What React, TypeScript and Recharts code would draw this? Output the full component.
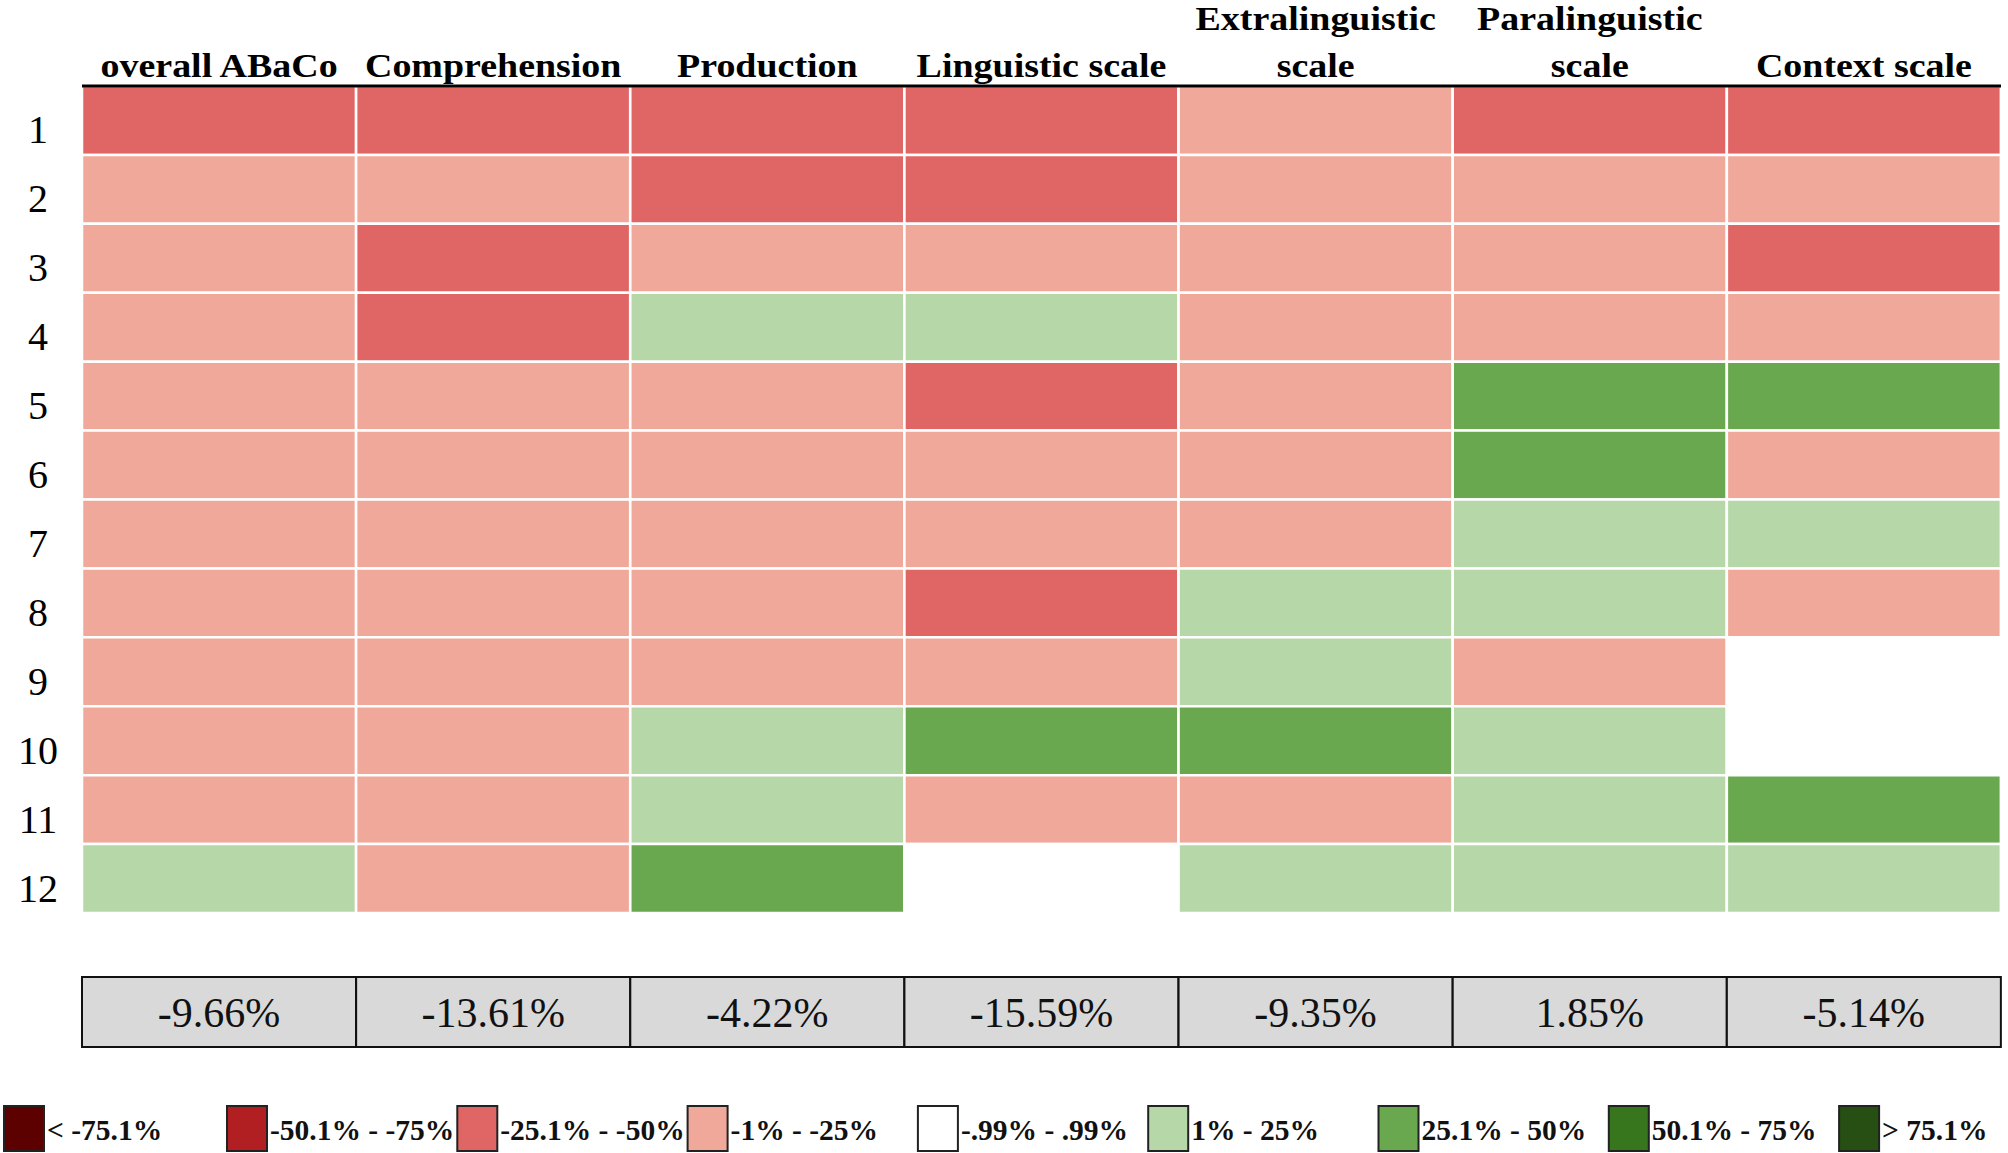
import React from 'react';
import { BarChart, Bar, XAxis, YAxis, Cell, LabelList } from 'recharts';

const columns = ['overall ABaCo', 'Comprehension', 'Production', 'Linguistic scale', 'Extralinguistic scale', 'Paralinguistic scale', 'Context scale'];
const headerLines = [['overall ABaCo'], ['Comprehension'], ['Production'], ['Linguistic scale'], ['Extralinguistic', 'scale'], ['Paralinguistic', 'scale'], ['Context scale']];
const rowLabels = ['1', '2', '3', '4', '5', '6', '7', '8', '9', '10', '11', '12'];

// class index per row (see legendLabels) for each column
const overallClasses = [2, 3, 3, 3, 3, 3, 3, 3, 3, 3, 3, 5];
const comprehensionClasses = [2, 3, 2, 2, 3, 3, 3, 3, 3, 3, 3, 3];
const productionClasses = [2, 2, 3, 5, 3, 3, 3, 3, 3, 5, 5, 6];
const linguisticClasses = [2, 2, 3, 5, 2, 3, 3, 2, 3, 6, 3, 4];
const extralinguisticClasses = [3, 3, 3, 3, 3, 3, 3, 5, 5, 6, 3, 5];
const paralinguisticClasses = [2, 3, 3, 3, 6, 6, 5, 5, 3, 5, 5, 5];
const contextClasses = [2, 3, 2, 3, 6, 3, 5, 3, 4, 4, 6, 5];
const columnClasses = [overallClasses, comprehensionClasses, productionClasses, linguisticClasses, extralinguisticClasses, paralinguisticClasses, contextClasses];

const summaryValues = [-9.66, -13.61, -4.22, -15.59, -9.35, 1.85, -5.14];

const legendLabels = ['< -75.1%', '-50.1% - -75%', '-25.1% - -50%', '-1% - -25%', '-.99% - .99%', '1% - 25%', '25.1% - 50%', '50.1% - 75%', '> 75.1%'];
const classColors = ['#5c0000', '#b11f22', '#e06666', '#f0a89a', '#ffffff', '#b6d7a8', '#6aa84f', '#38761d', '#274e13'];

const FONT = '"Liberation Serif", "Times New Roman", serif';

const heatData = columns.map((name) => {
  const row: Record<string, any> = { name };
  rowLabels.forEach((_, ri) => { row['r' + ri] = 1; });
  return row;
});

const summaryData = columns.map((name, ci) => ({
  name,
  v: 1,
  label: summaryValues[ci].toFixed(2) + '%',
}));

const HeaderTick = (props: any) => {
  const { x, payload } = props;
  const idx = columns.indexOf(payload.value);
  const lines = headerLines[idx] || [payload.value];
  const baselines = lines.length === 2 ? [30, 77] : [77];
  return (
    <g>
      {lines.map((l, i) => (
        <text key={i} transform={`translate(${x},${baselines[i]}) scale(1.15,1)`} x={0} y={0} textAnchor="middle" fontFamily={FONT} fontWeight="bold" fontSize={33} fill="#000">
          {l}
        </text>
      ))}
    </g>
  );
};

const RowTick = (props: any) => {
  const { y, payload } = props;
  const label = rowLabels[Math.floor(payload.value)];
  return (
    <text x={38} y={y + 23} textAnchor="middle" fontFamily={FONT} fontSize={40} fill="#000">
      {label}
    </text>
  );
};

const rowTicks = rowLabels.map((_, i) => i + 0.5);

export default function App() {
  return (
    <div style={{ position: 'absolute', left: 0, top: 0, width: 2008, height: 1153, background: '#fff', overflow: 'hidden' }}>
      <div style={{ position: 'absolute', left: 0, top: 0 }}>
        <BarChart width={2008} height={920} data={heatData} margin={{ top: 0, right: 7, bottom: 7, left: 0 }} barCategoryGap={0} barGap={0}>
          <XAxis dataKey="name" orientation="top" height={86} interval={0} tickLine={false} axisLine={{ stroke: '#000', strokeWidth: 3 }} tick={<HeaderTick />} />
          <YAxis type="number" domain={[0, 12]} reversed ticks={rowTicks} width={82} axisLine={false} tickLine={false} tick={<RowTick />} allowDataOverflow />
          {rowLabels.map((_, ri) => (
            <Bar key={ri} dataKey={'r' + ri} stackId="a" isAnimationActive={false}>
              {columns.map((c, ci) => (
                <Cell key={ci} fill={classColors[columnClasses[ci][ri]]} stroke="#fff" strokeWidth={2.5} />
              ))}
            </Bar>
          ))}
        </BarChart>
      </div>
      <div style={{ position: 'absolute', left: 0, top: 971 }}>
        <BarChart width={2008} height={82} data={summaryData} margin={{ top: 6, right: 7, bottom: 6, left: 82 }} barCategoryGap={0} barGap={0}>
          <XAxis dataKey="name" hide />
          <YAxis type="number" domain={[0, 1]} hide />
          <Bar dataKey="v" fill="#d9d9d9" stroke="#111" strokeWidth={2} isAnimationActive={false}>
            <LabelList dataKey="label" position="center" fill="#111" fontSize={42} fontFamily={FONT} />
          </Bar>
        </BarChart>
      </div>
      <svg style={{ position: 'absolute', left: 0, top: 1090 }} width={2008} height={63}>
        {legendLabels.map((l, i) => {
          const x = i === 0 ? 4 : 227 + 230.3 * (i - 1);
          return (
            <g key={i}>
              <rect x={x} y={16} width={40} height={45} fill={classColors[i]} stroke="#222" strokeWidth={2} />
              <text x={x + 43} y={50} fontFamily={FONT} fontWeight="bold" fontSize={29.5} fill="#111">
                {l}
              </text>
            </g>
          );
        })}
      </svg>
    </div>
  );
}
